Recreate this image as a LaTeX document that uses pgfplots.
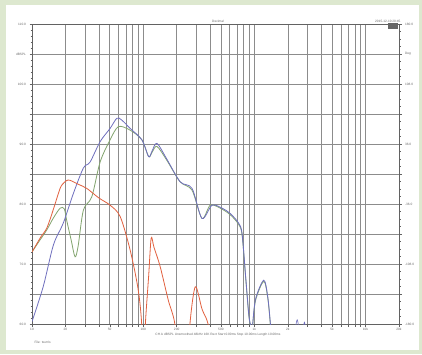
\documentclass[border=0pt]{standalone}
\usepackage{pgfplots}
\pgfplotsset{compat=1.18}
\usepackage{fontspec}
\setmainfont{Liberation Sans}
\definecolor{bgg}{HTML}{DDE8CF}
\definecolor{gridc}{HTML}{8C8C8C}
\definecolor{bl}{HTML}{6F6FBE}
\definecolor{gr}{HTML}{82A46E}
\definecolor{rd}{HTML}{E2603E}
\definecolor{txt}{HTML}{6A6A6A}
\newcommand{\tf}{\fontsize{3.2}{3.8}\selectfont}
\begin{document}
\begin{tikzpicture}
\fill[bgg] (0pt,0pt) rectangle (422pt,354pt);
\fill[white] (6pt,4pt) rectangle (419pt,349pt);
\begin{axis}[
  at={(32pt,30pt)}, anchor=south west,
  scale only axis, width=367pt, height=300pt,
  xmode=log, xmin=10, xmax=20000, ymin=60, ymax=110,
  xtick={10,20,30,40,50,60,70,80,90,100,200,300,400,500,600,700,800,900,1000,2000,3000,4000,5000,6000,7000,8000,9000,10000,20000},
  xticklabels={10,20,,,50,,,,,100,200,,,500,,,,,1k,2k,,,5k,,,,,10k,20k},
  ytick={60,65,...,110},
  yticklabels={60.0,,70.0,,80.0,,90.0,,100.0,dBSPL,110.0},
  minor y tick num=4,
  xmajorgrids, ymajorgrids,
  grid style={gridc, line width=0.5pt},
  axis line style={gridc!70!black, line width=0.7pt},
  tick style={gridc!70!black, line width=0.4pt},
  major tick length=2.5pt, minor tick length=1.5pt,
  tick align=outside,
  xtick pos=bottom, ytick pos=left,
  ticklabel style={font=\tf, text=txt},
  xticklabel style={yshift=1.8pt},
  /pgf/number format/assume math mode=true,
  clip=true,
]
\addplot[gr, line width=0.8pt, smooth, tension=0.5] coordinates {
(10,72)(11.8,74)(13.6,75.7)(15.5,77.6)(17.9,79.3)(19.5,79.2)(20.5,77.3)(22.5,74)(24.4,71.2)(26,73)(29,79)(34.5,81.2)(41,87)(50.4,90.7)(59.9,92.9)(76.4,92.3)(97.3,90.7)(112,87.9)(120,88.6)(133,89.6)(163,87.3)(215,83.7)(275,82.3)(338,77.6)(401,79.8)(494,79.3)(608,78.2)(723,76.6)(775,74.9)(830,68.3)(889,61.6)(921,59.8)(950,58.5)(1021,63.8)(1214,67.1)(1318,64.4)(1394,59.8)(1450,55)(1600,50)
};
\addplot[bl, line width=0.8pt, smooth, tension=0.5] coordinates {
(10,60.4)(12.6,66.2)(15.6,73.2)(19.1,76.8)(23.6,81.8)(29,86)(33.3,87)(41,90.4)(50.4,92.6)(58,94.3)(64,94)(76.4,92.6)(97.3,90.7)(112,87.9)(120,88.8)(133,90.1)(163,87.5)(215,83.7)(275,82.6)(338,77.6)(416,79.8)(512,79.3)(608,78.4)(723,76.8)(775,75.1)(830,68.5)(889,61.8)(921,59.9)(950,58.6)(1021,64)(1214,67.3)(1318,64.6)(1394,60)(1450,55)(1600,50)
};
\addplot[bl, line width=0.6pt, smooth] coordinates {(2250,57)(2427,60.7)(2600,57)};
\addplot[bl, line width=0.6pt, smooth] coordinates {(2700,58)(2820,60.3)(2950,58)};
\addplot[rd, line width=0.8pt, smooth, tension=0.5] coordinates {
(10,72)(12,74.5)(13.6,76)(15.5,79)(17.9,82.6)(19.5,83.6)(21.1,84)(23,83.8)(26,83.3)(31.1,82.6)(40,81)(50.4,79.8)(62.1,77.9)(76.4,72.3)(90.2,65.7)(97.3,59.5)(100,50)(102,50)(104,59)(112,68)(118,74.3)(125,72.8)(142,69.6)(168,64)(194,59.6)(205,50)(250,50)(262,59.5)(294,66.2)(338,62.5)(375,60.6)(400,58)(430,50)
};
\end{axis}
\begin{axis}[
  at={(32pt,30pt)}, anchor=south west,
  scale only axis, width=367pt, height=300pt,
  xmode=log, xmin=10, xmax=20000, ymin=-180, ymax=180,
  hide x axis, axis y line*=right,
  ytick={-180,-144,...,180},
  yticklabels={-180.0,,-108.0,,-36.0,,36.0,,108.0,Deg,180.0},
  minor y tick num=3,
  axis line style={gridc!70!black, line width=0.7pt},
  tick style={gridc!70!black, line width=0.4pt},
  major tick length=2.5pt, minor tick length=1.5pt,
  tick align=outside,
  ticklabel style={font=\tf, text=txt},
  /pgf/number format/assume math mode=true,
]
\end{axis}
\fill[gray!80!black] (388pt,325pt) rectangle (397.5pt,330.5pt);
\node[font=\tf, text=txt] at (218pt,333pt) {Decimal};
\node[font=\tf, text=txt, anchor=east] at (404pt,333pt) {2015-12-10 20:45};
\node[font=\tf, text=txt] at (218pt,19.5pt) {CH A dBSPL Unsmoothed 48kHz 16K Rect Start 0.00ms Stop 10.00ms Length 10.00ms};
\node[font=\tf, text=txt, anchor=west] at (31pt,12pt) {File: tw.mls};
\end{tikzpicture}
\end{document}
